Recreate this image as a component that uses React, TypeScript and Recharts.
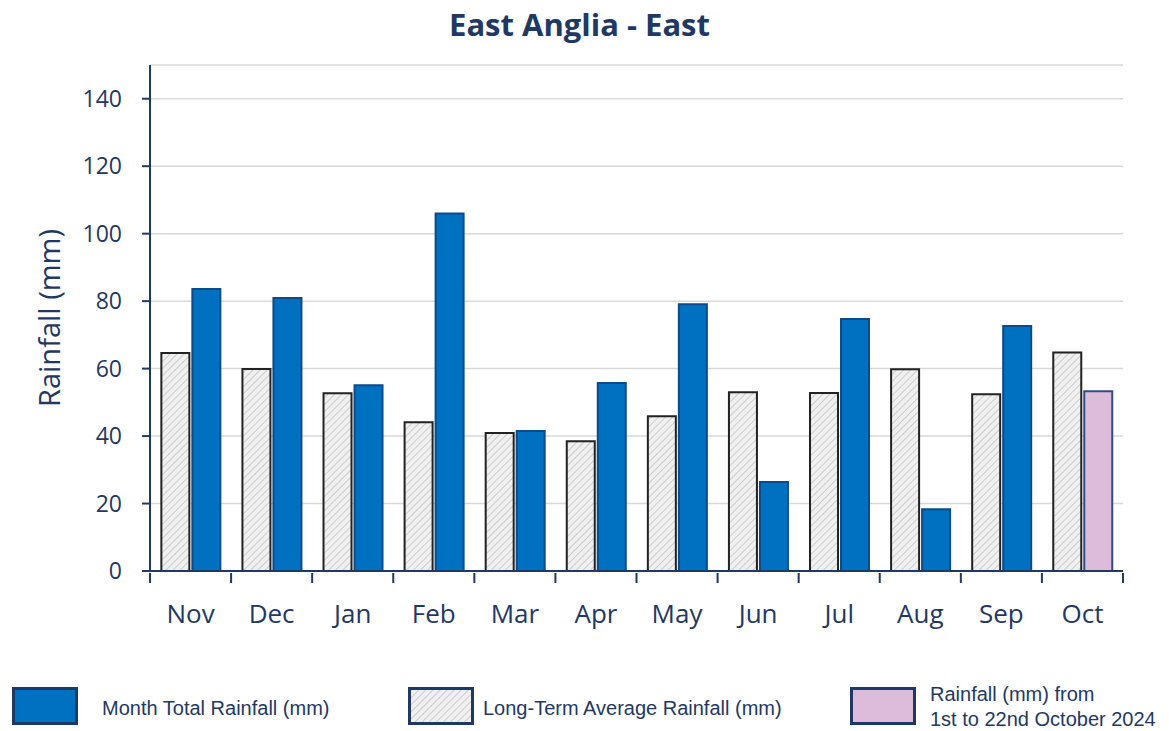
import React from "react";
import { BarChart, Bar, XAxis, YAxis, CartesianGrid, Cell } from "recharts";

const months = ["Nov", "Dec", "Jan", "Feb", "Mar", "Apr", "May", "Jun", "Jul", "Aug", "Sep", "Oct"];
const monthTotal = [83.6, 80.9, 55.1, 106, 41.5, 55.7, 79.1, 26.4, 74.7, 18.3, 72.6, 53.3];
const longTermAverage = [64.6, 59.9, 52.7, 44.1, 40.9, 38.5, 45.9, 53, 52.8, 59.8, 52.4, 64.8];
const partialMonth = "Oct";
const yTicks = [0, 20, 40, 60, 80, 100, 120, 140];

const data = months.map((m, i) => ({ month: m, lta: longTermAverage[i], total: monthTotal[i] }));

const NAVY = "#1F3864";
const BLUE = "#0070C0";
const PINK = "#DDBBDA";
const FONT = "'Open Sans', 'Noto Sans', sans-serif";

const XTick = (props: any) => {
  const { x, y, payload, index } = props;
  const off = payload.offset || 0;
  const ty = y;
  return (
    <g>
      <line x1={x - off} x2={x - off} y1={ty - 8} y2={ty + 2} stroke={NAVY} strokeWidth={2} />
      {index === months.length - 1 && (
        <line x1={x + off} x2={x + off} y1={ty - 8} y2={ty + 2} stroke={NAVY} strokeWidth={2} />
      )}
      <text x={x} y={ty + 42} textAnchor="middle" fill={NAVY} fontSize={26} fontFamily={FONT}>
        {payload.value}
      </text>
    </g>
  );
};

const legendBox = (left: number, fill: string) => ({
  position: "absolute" as const,
  left,
  top: 687,
  width: 66,
  height: 38,
  background: fill,
  border: `3px solid ${NAVY}`,
  boxSizing: "border-box" as const,
});

const legendText = {
  position: "absolute" as const,
  fontFamily: "'Liberation Sans', Arial, sans-serif",
  fontSize: 20,
  color: NAVY,
  lineHeight: "25px",
  whiteSpace: "nowrap" as const,
};

export default function App() {
  return (
    <div style={{ position: "absolute", left: 0, top: 0, width: 1169, height: 731, background: "#fff" }}>
      <svg width={0} height={0} style={{ position: "absolute" }}>
        <defs>
          <pattern id="hatch" patternUnits="userSpaceOnUse" width={5} height={5} patternTransform="rotate(45)">
            <rect width={5} height={5} fill="#F0F0F0" />
            <line x1={0} y1={0} x2={0} y2={5} stroke="#C4C4C4" strokeWidth={1.6} />
          </pattern>
        </defs>
      </svg>
      <div
        style={{
          position: "absolute",
          left: 0,
          width: 1169,
          top: 3,
          textAlign: "center",
          fontFamily: FONT,
          fontWeight: 700,
          fontSize: 31,
          lineHeight: "42px",
          color: NAVY,
        }}
      >
        <span style={{ position: "relative", left: -5 }}>East Anglia - East</span>
      </div>
      <div style={{ position: "absolute", left: 0, top: 0 }}>
        <BarChart
          width={1169}
          height={660}
          data={data}
          margin={{ top: 65, right: 46, left: 0, bottom: 0 }}
          barCategoryGap="14%"
          barGap={3}
        >
          <CartesianGrid vertical={false} stroke="#D9D9D9" strokeWidth={1.5} />
          <XAxis
            dataKey="month"
            tick={<XTick />}
            tickLine={false}
            axisLine={{ stroke: NAVY, strokeWidth: 2 }}
            interval={0}
            height={89}
            tickSize={8}
          />
          <XAxis xAxisId="top" orientation="top" dataKey="month" tick={false} tickLine={false} axisLine={{ stroke: NAVY, strokeWidth: 2 }} height={0} />
          <YAxis
            domain={[0, 150]}
            ticks={yTicks}
            width={150}
            tickSize={8}
            tickMargin={20}
            tickLine={{ stroke: NAVY, strokeWidth: 2 }}
            axisLine={{ stroke: NAVY, strokeWidth: 2 }}
            tick={{ fill: NAVY, fontSize: 23, fontFamily: FONT }}
            label={{
              value: "Rainfall (mm)",
              angle: -90,
              position: "insideLeft",
              offset: 50,
              style: { fill: NAVY, fontSize: 29, fontFamily: FONT, textAnchor: "middle" },
            }}
            interval={0}
            allowDataOverflow
          />
          <YAxis yAxisId="right" orientation="right" width={0} domain={[0, 150]} tick={false} tickLine={false} axisLine={{ stroke: NAVY, strokeWidth: 2 }} />
          <Bar dataKey="lta" fill="url(#hatch)" stroke="#222" strokeWidth={2} isAnimationActive={false} />
          <Bar dataKey="total" fill={BLUE} stroke="#0B4A8C" strokeWidth={2} isAnimationActive={false}>
            {data.map((d) => (
              <Cell key={d.month} fill={d.month === partialMonth ? PINK : BLUE} stroke={d.month === partialMonth ? "#2F4C8A" : "#0B4A8C"} />
            ))}
          </Bar>
        </BarChart>
      </div>
      <div style={legendBox(12, BLUE)} />
      <div style={{ ...legendText, left: 102, top: 696 }}>Month Total Rainfall (mm)</div>
      <div style={{ ...legendBox(408, "#F0F0F0") }}>
        <svg width={60} height={32} style={{ display: "block" }}>
          <rect width={60} height={32} fill="url(#hatch)" />
        </svg>
      </div>
      <div style={{ ...legendText, left: 483, top: 696 }}>Long-Term Average Rainfall (mm)</div>
      <div style={legendBox(850, PINK)} />
      <div style={{ ...legendText, left: 930, top: 682 }}>
        Rainfall (mm) from
        <br />
        1st to 22nd October 2024
      </div>
    </div>
  );
}
